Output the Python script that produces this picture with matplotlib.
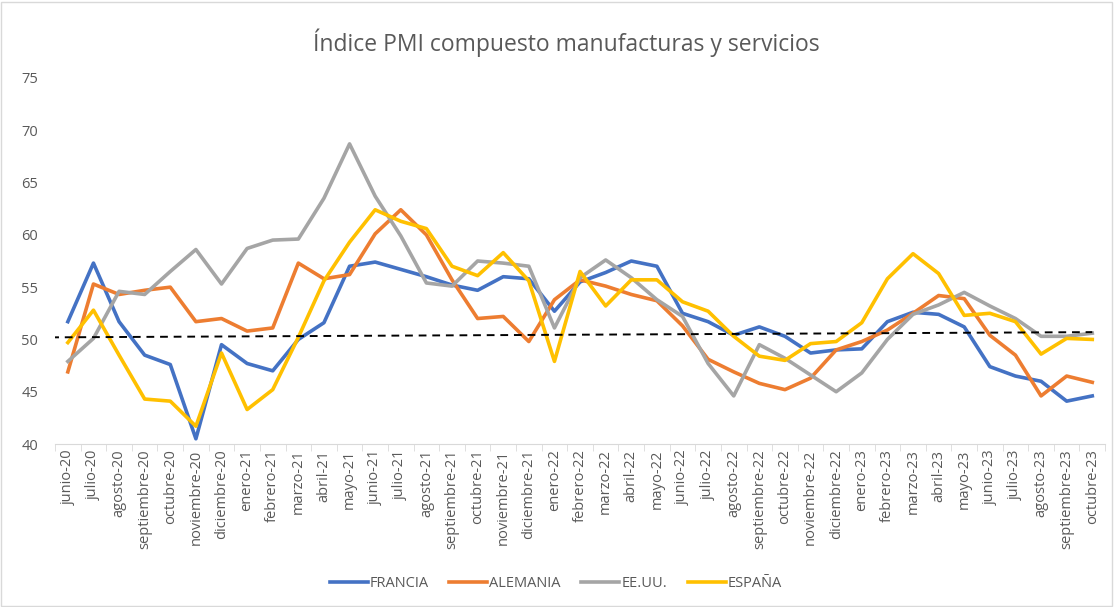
import numpy as np
import matplotlib
matplotlib.use("Agg")
import matplotlib.pyplot as plt
from matplotlib.patches import Rectangle

meses = ["junio", "julio", "agosto", "septiembre", "octubre", "noviembre", "diciembre",
         "enero", "febrero", "marzo", "abril", "mayo"]
fechas = ([f"{m}-20" for m in meses[:7]]
          + [f"{m}-21" for m in meses[7:] + meses[:7]]
          + [f"{m}-22" for m in meses[7:] + meses[:7]]
          + [f"{m}-23" for m in meses[7:] + meses[:5]])

francia = [51.7, 57.3, 51.7, 48.5, 47.6, 40.5, 49.5,
           47.7, 47.0, 50.0, 51.6, 57.0, 57.4, 56.7, 56.0, 55.2, 54.7, 56.0, 55.8,
           52.7, 55.5, 56.4, 57.5, 57.0, 52.5, 51.7, 50.4, 51.2, 50.3, 48.7, 49.0,
           49.1, 51.7, 52.6, 52.4, 51.2, 47.4, 46.5, 46.0, 44.1, 44.6]
alemania = [46.9, 55.3, 54.3, 54.7, 55.0, 51.7, 52.0,
            50.8, 51.1, 57.3, 55.8, 56.2, 60.1, 62.4, 60.0, 55.7, 52.0, 52.2, 49.8,
            53.8, 55.7, 55.1, 54.3, 53.7, 51.3, 48.1, 46.9, 45.8, 45.2, 46.3, 49.0,
            49.8, 50.9, 52.5, 54.2, 53.9, 50.4, 48.5, 44.6, 46.5, 45.9]
eeuu = [47.9, 50.1, 54.6, 54.3, 56.5, 58.6, 55.3,
        58.7, 59.5, 59.6, 63.5, 68.7, 63.7, 59.9, 55.4, 55.1, 57.5, 57.3, 57.0,
        51.1, 55.9, 57.6, 55.9, 53.8, 52.2, 47.7, 44.6, 49.5, 48.2, 46.6, 45.0,
        46.8, 50.0, 52.4, 53.3, 54.5, 53.2, 52.0, 50.3, 50.3, 50.6]
espana = [49.7, 52.8, 48.5, 44.3, 44.1, 41.7, 48.7,
          43.3, 45.2, 50.2, 55.6, 59.3, 62.4, 61.3, 60.6, 57.0, 56.1, 58.3, 55.6,
          47.9, 56.5, 53.2, 55.7, 55.7, 53.6, 52.7, 50.3, 48.4, 48.0, 49.6, 49.8,
          51.6, 55.8, 58.2, 56.3, 52.3, 52.5, 51.7, 48.6, 50.1, 50.0]
referencia = [50.2, 50.7]  # linea discontinua, inicio y fin

series = [("FRANCIA", francia, "#4472C4"), ("ALEMANIA", alemania, "#ED7D31"),
          ("EE.UU.", eeuu, "#A5A5A5"), ("ESPAÑA", espana, "#FFC000")]

plt.rcParams["font.family"] = ["Open Sans", "DejaVu Sans"]
texto = "#595959"

fig = plt.figure(figsize=(11.14, 6.07), dpi=100)
ax = fig.add_axes([0.0494, 0.2685, 0.9426, 0.603])

x = np.arange(len(fechas))
for nombre, valores, color in series:
    ax.plot(x, valores, color=color, lw=2.6, label=nombre, solid_joinstyle="round")

ax.plot([-0.65, len(fechas) - 1], referencia, color="black", lw=1.4, ls=(0, (4, 3)))

ax.set_xlim(-0.5, len(fechas) - 0.5)
ax.set_ylim(40, 75)
ax.set_yticks(range(40, 80, 5))
ax.set_xticks(x)
ax.set_xticklabels(fechas, rotation=90, fontsize=10.5, color=texto)
ax.set_xticks(np.arange(-0.5, len(fechas)), minor=True)
ax.tick_params(axis="x", which="major", length=0, pad=4)
ax.tick_params(axis="x", which="minor", length=5, color="#D9D9D9")
ax.tick_params(axis="y", length=0, labelsize=10.5, labelcolor=texto, pad=12)
for s in ["top", "right", "left"]:
    ax.spines[s].set_visible(False)
ax.spines["bottom"].set_color("#D9D9D9")

fig.text(0.508, 0.93, "Índice PMI compuesto manufacturas y servicios",
         ha="center", va="center", fontsize=16.5, color=texto)

fig.legend(loc="center", bbox_to_anchor=(0.499, 0.039), ncol=4, frameon=False,
           fontsize=10.5, labelcolor=texto, handlelength=2.6, columnspacing=1.4,
           handletextpad=0.15)

fig.patches.append(Rectangle((0.001, 0.002), 0.997, 0.995, transform=fig.transFigure,
                             fill=False, edgecolor="#D9D9D9", lw=1))

fig.savefig("out.png", dpi=100)
